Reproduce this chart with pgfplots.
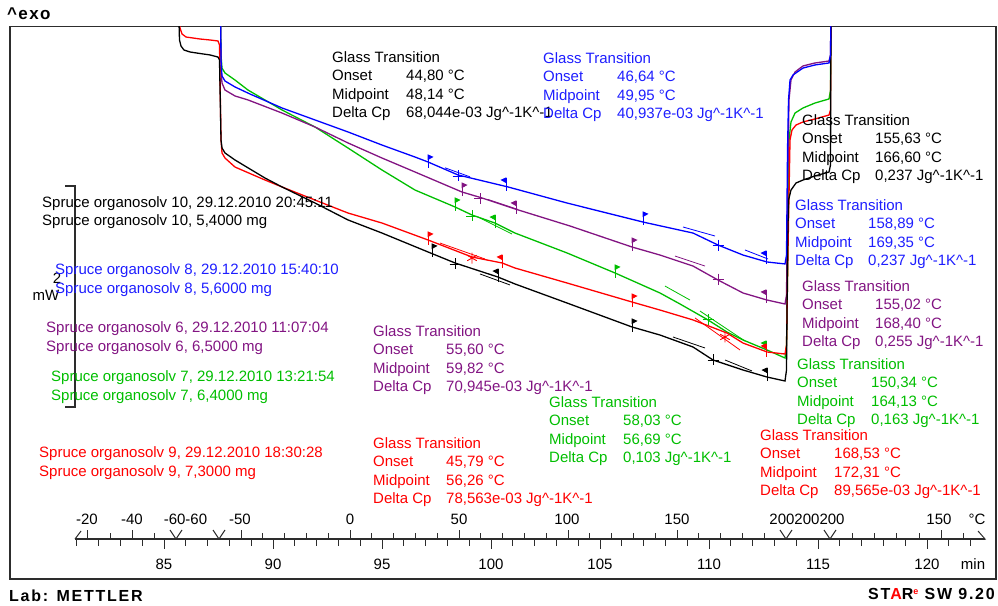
\documentclass[border=0pt]{standalone}
\usepackage{fontspec}
\setmainfont{Liberation Sans}
\usepackage{pgfplots}
\pgfplotsset{compat=1.18}
\definecolor{mblue}{RGB}{0,0,255}
\definecolor{mbluet}{RGB}{30,30,255}
\definecolor{mpurple}{RGB}{130,20,130}
\definecolor{mgreen}{RGB}{0,190,0}
\definecolor{mred}{RGB}{255,0,0}
\definecolor{axcol}{RGB}{45,45,45}
\pgfdeclareplotmark{flagR}{%
  \pgfpathmoveto{\pgfqpoint{0pt}{-5pt}}\pgfpathlineto{\pgfqpoint{0pt}{8pt}}\pgfusepathqstroke
  \pgfpathmoveto{\pgfqpoint{0pt}{8pt}}\pgfpathlineto{\pgfqpoint{4.5pt}{6pt}}\pgfpathlineto{\pgfqpoint{0pt}{3.5pt}}\pgfpathclose
  \pgfusepathqfillstroke}
\pgfdeclareplotmark{flagL}{%
  \pgfpathmoveto{\pgfqpoint{0pt}{-5pt}}\pgfpathlineto{\pgfqpoint{0pt}{8pt}}\pgfusepathqstroke
  \pgfpathmoveto{\pgfqpoint{0pt}{8pt}}\pgfpathlineto{\pgfqpoint{-4.5pt}{6pt}}\pgfpathlineto{\pgfqpoint{0pt}{3.5pt}}\pgfpathclose
  \pgfusepathqfillstroke}
\newcommand\JK{Jg\textasciicircum-1K\textasciicircum-1}
\newcommand\tx[4]{\node[anchor=base west,inner sep=0pt,text=#3] at (#1,{#2+5.5}) {#4};}
\newcommand\GT[7]{%
  \tx{#1}{#2}{#4}{Glass Transition}%
  \tx{#1}{#2+18.5}{#4}{Onset}\tx{#3}{#2+18.5}{#4}{#5}%
  \tx{#1}{#2+37}{#4}{Midpoint}\tx{#3}{#2+37}{#4}{#6}%
  \tx{#1}{#2+55.5}{#4}{Delta Cp}\tx{#3}{#2+55.5}{#4}{#7}}
\begin{document}
\begin{tikzpicture}[font=\fontsize{15}{18}\selectfont]
\path[use as bounding box] (0pt,0pt) rectangle (998pt,605pt);
\begin{axis}[at={(10pt,26pt)}, anchor=south west, scale only axis,
  width=986pt, height=552.5pt,
  xmin=77.936, xmax=123.165, ymin=0, ymax=5.0227,
  xtick=\empty, ytick=\empty,
  axis line style={line width=1.3pt, color=axcol},
  clip=true]
% ---- curves: time (min) vs heat flow (mW, arbitrary offset) ----
\addplot[mgreen, line width=1.3pt, no markers] coordinates {
(87.592,5.218) (87.615,4.764) (87.661,4.645) (87.798,4.600) (88.257,4.536)
(88.853,4.445) (90.413,4.264) (91.927,4.109) (93.440,3.918) (95.000,3.718)
(96.514,3.536) (98.349,3.382) (99.128,3.309) (100.183,3.236) (101.101,3.145)
(103.486,2.964) (105.688,2.782) (107.752,2.600) (108.670,2.500) (109.954,2.355)
(110.826,2.245) (111.560,2.173) (112.661,2.082) (113.486,2.009) (113.555,2.127)
(113.624,2.991) (113.670,3.991) (113.761,4.155) (113.945,4.236) (114.312,4.282)
(114.862,4.327) (115.505,4.364) (115.573,4.445) (115.596,5.218)};
\addplot[mpurple, line width=1.3pt, no markers] coordinates {
(87.592,5.218) (87.615,4.627) (87.661,4.509) (87.798,4.445) (88.257,4.391)
(88.853,4.355) (90.413,4.236) (91.927,4.109) (93.440,3.964) (95.000,3.827)
(96.514,3.700) (98.670,3.518) (99.587,3.464) (101.101,3.364) (103.624,3.209)
(106.468,3.018) (107.752,2.945) (109.266,2.845) (110.413,2.718) (111.560,2.600)
(112.661,2.536) (113.486,2.500) (113.555,2.582) (113.601,3.445) (113.670,4.355)
(113.761,4.536) (113.945,4.609) (114.312,4.664) (114.862,4.691) (115.505,4.709)
(115.573,4.764) (115.596,5.218)};
\addplot[mred, line width=1.3pt, no markers] coordinates {
(85.688,5.218) (85.734,5.009) (85.826,4.955) (86.009,4.927) (86.651,4.909)
(87.110,4.900) (87.477,4.891) (87.546,4.855) (87.615,3.991) (87.661,3.873)
(87.798,3.827) (88.257,3.745) (89.633,3.627) (90.413,3.564) (91.927,3.445)
(93.440,3.327) (95.000,3.236) (97.110,3.082) (99.128,2.927) (100.505,2.873)
(101.101,2.827) (103.486,2.691) (106.468,2.518) (107.752,2.445) (109.266,2.355)
(110.826,2.236) (111.560,2.145) (112.661,2.064) (113.486,2.045) (113.555,2.127)
(113.624,2.991) (113.716,3.991) (113.807,4.082) (113.991,4.127) (114.312,4.155)
(114.862,4.182) (115.505,4.218) (115.573,4.264) (115.596,5.218)};
\addplot[black, line width=1.3pt, no markers] coordinates {
(85.665,5.218) (85.711,4.900) (85.780,4.845) (85.917,4.809) (86.193,4.791)
(86.651,4.777) (87.110,4.764) (87.477,4.745) (87.546,4.718) (87.615,3.991)
(87.661,3.918) (87.798,3.873) (88.257,3.809) (88.945,3.727) (89.633,3.645)
(90.413,3.564) (91.927,3.418) (93.440,3.264) (95.000,3.145) (97.110,2.973)
(98.349,2.873) (100.321,2.745) (101.101,2.682) (103.486,2.509) (106.468,2.291)
(107.752,2.218) (109.266,2.109) (110.183,1.991) (111.560,1.900) (112.661,1.836)
(113.486,1.800) (113.555,1.900) (113.601,2.991) (113.647,3.445) (113.761,3.536)
(113.991,3.600) (114.312,3.627) (114.862,3.664) (115.505,3.700) (115.573,3.764)
(115.596,5.218)};
\addplot[mblue, line width=1.3pt, no markers] coordinates {
(87.592,5.218) (87.615,4.718) (87.661,4.573) (87.798,4.527) (88.257,4.473)
(88.945,4.409) (90.413,4.282) (91.927,4.173) (93.440,4.064) (95.000,3.945)
(96.514,3.836) (97.110,3.791) (98.486,3.673) (100.780,3.564) (103.486,3.418)
(106.972,3.245) (109.266,3.145) (110.413,3.036) (111.560,2.945) (112.661,2.882)
(113.486,2.864) (113.555,2.945) (113.601,3.900) (113.647,4.355) (113.716,4.536)
(113.853,4.582) (114.312,4.645) (114.862,4.673) (115.505,4.691) (115.573,4.764)
(115.596,5.218)};
% ---- tangents ----
\addplot[mblue, line width=0.8pt, no markers] coordinates {(97.890,3.738) (99.037,3.656)};
\addplot[mblue, line width=0.8pt, no markers] coordinates {(108.807,3.200) (110.275,3.118)};
\addplot[mblue, line width=0.8pt, no markers] coordinates {(111.651,2.991) (112.706,2.909)};
\addplot[mpurple, line width=0.8pt, no markers] coordinates {(99.862,3.450) (101.239,3.359)};
\addplot[mpurple, line width=0.8pt, no markers] coordinates {(108.440,2.936) (109.817,2.845)};
\addplot[mgreen, line width=0.8pt, no markers] coordinates {(99.404,3.291) (100.963,3.136)};
\addplot[mgreen, line width=0.8pt, no markers] coordinates {(107.982,2.663) (109.128,2.536)};
\addplot[mgreen, line width=0.8pt, no markers] coordinates {(109.587,2.436) (111.651,2.163)};
\addplot[mred, line width=0.8pt, no markers] coordinates {(97.661,3.054) (99.725,2.909)};
\addplot[mred, line width=0.8pt, no markers] coordinates {(109.358,2.373) (111.422,2.082)};
\addplot[black, line width=0.8pt, no markers] coordinates {(99.495,2.773) (100.872,2.673)};
\addplot[black, line width=0.8pt, no markers] coordinates {(108.349,2.200) (109.817,2.100)};
\addplot[black, line width=0.8pt, no markers] coordinates {(110.734,1.991) (111.972,1.891)};
% ---- evaluation markers ----
\addplot[mblue, only marks, mark=flagR, line width=0.9pt] coordinates {(97.110,3.782) (106.972,3.264)};
\addplot[mblue, only marks, mark=flagL, line width=0.9pt] coordinates {(100.688,3.573) (112.615,2.909)};
\addplot[mblue, only marks, mark=+, mark size=5.5pt, line width=0.9pt] coordinates {(98.486,3.664) (110.413,3.036)};
\addplot[mpurple, only marks, mark=flagR, line width=0.9pt] coordinates {(98.670,3.527) (106.468,3.027)};
\addplot[mpurple, only marks, mark=flagL, line width=0.9pt] coordinates {(101.147,3.364) (112.615,2.555)};
\addplot[mpurple, only marks, mark=+, mark size=5.5pt, line width=0.9pt] coordinates {(99.495,3.455) (110.413,2.727)};
\addplot[mgreen, only marks, mark=flagR, line width=0.9pt] coordinates {(98.349,3.391) (105.688,2.782)};
\addplot[mgreen, only marks, mark=flagL, line width=0.9pt] coordinates {(100.183,3.236) (112.615,2.091)};
\addplot[mgreen, only marks, mark=+, mark size=5.5pt, line width=0.9pt] coordinates {(99.128,3.300) (109.954,2.355)};
\addplot[mred, only marks, mark=flagR, line width=0.9pt] coordinates {(97.110,3.082) (106.468,2.518)};
\addplot[mred, only marks, mark=flagL, line width=0.9pt] coordinates {(100.505,2.873) (112.615,2.064)};
\addplot[mred, only marks, mark=asterisk, mark size=5.5pt, line width=0.9pt] coordinates {(99.128,2.918) (110.734,2.200)};
\addplot[black, only marks, mark=flagR, line width=0.9pt] coordinates {(97.294,2.973) (106.468,2.291)};
\addplot[black, only marks, mark=flagL, line width=0.9pt] coordinates {(100.321,2.745) (112.661,1.845)};
\addplot[black, only marks, mark=+, mark size=5.5pt, line width=0.9pt] coordinates {(98.349,2.864) (110.183,1.991)};
\end{axis}
\begin{scope}[x=1pt,y=-1pt,shift={(0pt,605pt)}]
% header / footer
\node[anchor=base west,inner sep=0pt] at (7,20) {\fontsize{17}{18}\selectfont\bfseries\addfontfeatures{LetterSpace=8}\textasciicircum exo};
\node[anchor=base west,inner sep=0pt] at (9,601) {\fontsize{16}{18}\selectfont\bfseries\addfontfeatures{LetterSpace=11}Lab: METTLER};
\node[anchor=base east,inner sep=0pt] at (995,599) {\fontsize{16}{18}\selectfont\bfseries\addfontfeatures{LetterSpace=11}ST\textcolor{mred}{A}R\textcolor{mred}{\raisebox{5pt}{\fontsize{9}{9}\selectfont e}} SW 9.20};
% scale bar
\draw[line width=1.3pt, axcol] (65,186) -- (75,186) -- (75,407) -- (65,407);
\node[anchor=base,inner sep=0pt] at (57,283.5) {2};
\node[anchor=base,inner sep=0pt] at (46,301) {mW};
% sample legend
\tx{42}{202}{black}{Spruce organosolv 10, 29.12.2010 20:45:11}
\tx{42}{220}{black}{Spruce organosolv 10, 5,4000 mg}
\tx{55}{269}{mbluet}{Spruce organosolv 8, 29.12.2010 15:40:10}
\tx{55}{288}{mbluet}{Spruce organosolv 8, 5,6000 mg}
\tx{46}{327}{mpurple}{Spruce organosolv 6, 29.12.2010 11:07:04}
\tx{46}{346}{mpurple}{Spruce organosolv 6, 6,5000 mg}
\tx{51}{376}{mgreen}{Spruce organosolv 7, 29.12.2010 13:21:54}
\tx{51}{395}{mgreen}{Spruce organosolv 7, 6,4000 mg}
\tx{39}{452}{mred}{Spruce organosolv 9, 29.12.2010 18:30:28}
\tx{39}{471}{mred}{Spruce organosolv 9, 7,3000 mg}
% glass transition results
\GT{332}{57}{406}{black}{44,80 °C}{48,14 °C}{68,044e-03 \JK}
\GT{543}{58}{617}{mbluet}{46,64 °C}{49,95 °C}{40,937e-03 \JK}
\GT{802}{120}{875}{black}{155,63 °C}{166,60 °C}{0,237 \JK}
\GT{795}{205}{868}{mbluet}{158,89 °C}{169,35 °C}{0,237 \JK}
\GT{802}{286}{875}{mpurple}{155,02 °C}{168,40 °C}{0,255 \JK}
\GT{797}{364}{871}{mgreen}{150,34 °C}{164,13 °C}{0,163 \JK}
\GT{760}{435}{834}{mred}{168,53 °C}{172,31 °C}{89,565e-03 \JK}
\GT{373}{331}{446}{mpurple}{55,60 °C}{59,82 °C}{70,945e-03 \JK}
\GT{549}{402}{623}{mgreen}{58,03 °C}{56,69 °C}{0,103 \JK}
\GT{373}{443}{446}{mred}{45,79 °C}{56,26 °C}{78,563e-03 \JK}
% time / temperature axis
\begin{scope}[axcol, line width=1pt]
\draw[line width=1.3pt] (75,539) -- (985,539);
\draw (75,539) -- (81,531);
\draw (978,531) -- (985,539) -- (980,539);
\foreach \t in {81,...,122} {\draw ({164+21.8*(\t-85)},539) -- ++(0,7);}
\foreach \t in {85,90,...,120} {\draw ({164+21.8*(\t-85)},539) -- ++(0,10);
  \node[anchor=base,inner sep=0pt,text=black] at ({164+21.8*(\t-85)},569.5) {\t};}
\node[anchor=base,inner sep=0pt,text=black] at (973,569.5) {min};
\foreach \x in {110,154.5} {\draw (\x,539) -- ++(0,-6);}
\foreach \x in {87,132} {\draw (\x,539) -- ++(0,-9);}
\foreach \k in {0,...,24} {\draw ({241+21.8*\k},539) -- ++(0,-6);}
\foreach \k in {0,5,10,15,20} {\draw ({241+21.8*\k},539) -- ++(0,-9);}
\foreach \x in {852,874,896.5,919,963} {\draw (\x,539) -- ++(0,-6);}
\draw (941,539) -- ++(0,-9);
\foreach \x in {176,219,786,830} {\draw (\x-6,530) -- (\x,539) -- (\x+6,530);}
\end{scope}
\foreach \x/\l in {87/-20,132/-40,185.5/-60-60,240/-50,350/0,459/50,567/100,677/150,807/200200200,939/150,977/°C}
  {\node[anchor=base,inner sep=0pt] at (\x,524.5) {\l};}
\end{scope}
\end{tikzpicture}
\end{document}
